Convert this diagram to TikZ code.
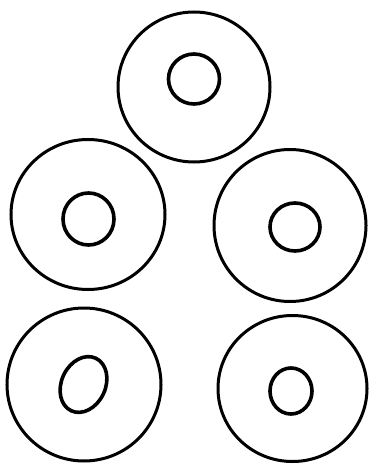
\documentclass[tikz,border=0pt]{standalone}
\begin{document}
\begin{tikzpicture}[x=1pt,y=-1pt,
  outer/.style={line width=3pt},
  inner/.style={line width=3.6pt}]
\useasboundingbox (0,0) rectangle (369,465);
% top
\draw[outer] (194,87) ellipse [x radius=76, y radius=75];
\draw[inner] (194,79) ellipse [x radius=25.5, y radius=25];
% middle left
\draw[outer] (88,214.5) ellipse [x radius=77, y radius=75];
\draw[inner] (88.5,219) ellipse [x radius=25.5, y radius=26];
% middle right
\draw[outer] (290,225.5) ellipse [x radius=76, y radius=76];
\draw[inner] (295,227) ellipse [x radius=25, y radius=24];
% bottom left
\draw[outer] (84,384.5) ellipse [x radius=77, y radius=76.5];
\draw[inner] (83.5,384.5) ellipse [x radius=22, y radius=29, rotate=-25];
% bottom right
\draw[outer] (292.5,388.5) ellipse [x radius=74.5, y radius=73];
\draw[inner] (291,391) ellipse [x radius=21, y radius=23];
\end{tikzpicture}
\end{document}
